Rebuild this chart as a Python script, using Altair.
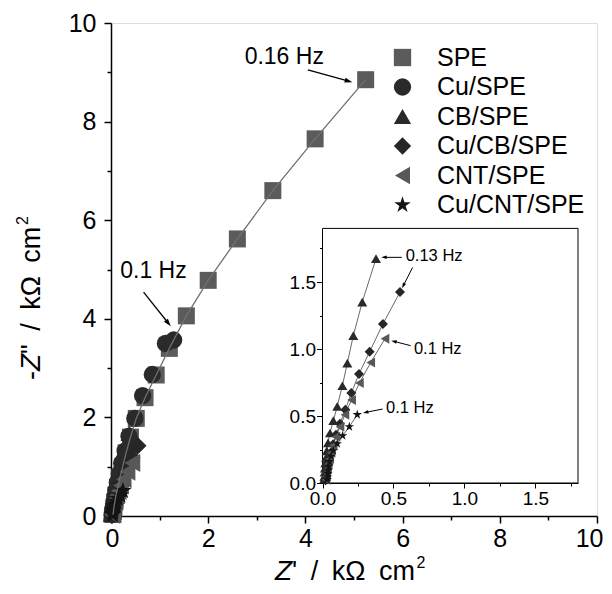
import math
import altair as alt
import pandas as pd

FONT = "Liberation Sans"
STAR = ("M0,-1L0.2245,-0.309L0.9511,-0.309L0.3633,0.118L0.5878,0.809L0,0.382"
        "L-0.5878,0.809L-0.3633,0.118L-0.9511,-0.309L-0.2245,-0.309Z")
HEAD = "M0,-1L0.65,1L-0.65,1Z"
ENSP = "\u2002"

series_names = ["SPE", "Cu/SPE", "CB/SPE", "Cu/CB/SPE", "CNT/SPE", "Cu/CNT/SPE"]
series_shapes = ["square", "circle", "triangle-up", "diamond", "triangle-left", STAR]
series_colors = ["#5b5b5b", "#2a2a2a", "#2a2a2a", "#262626", "#585858", "#141414"]
main_sizes = [289, 340, 420, 420, 330, 400]
inset_sizes = [100, 100, 110, 115, 100, 125]

# data (Z' , -Z'') in kOhm cm2
spe_x = [5.24, 4.20, 3.33, 2.60, 2.00, 1.55, 1.20, 0.93, 0.70, 0.52, 0.40, 0.31, 0.24, 0.18, 0.14, 0.10, 0.08, 0.06, 0.05, 0.04]
spe_y = [8.85, 7.65, 6.60, 5.62, 4.78, 4.06, 3.40, 2.86, 2.40, 1.98, 1.60, 1.28, 1.00, 0.77, 0.58, 0.42, 0.29, 0.18, 0.09, 0.03]
cu_x = [1.29, 1.12, 0.85, 0.65, 0.49, 0.37, 0.29, 0.22, 0.17, 0.13, 0.10, 0.08, 0.065, 0.055, 0.05, 0.045]
cu_y = [3.57, 3.50, 2.87, 2.44, 1.98, 1.62, 1.32, 1.07, 0.86, 0.68, 0.52, 0.39, 0.28, 0.18, 0.10, 0.04]
cb_x = [0.377, 0.28, 0.217, 0.175, 0.14, 0.104, 0.076, 0.053, 0.039, 0.030, 0.025, 0.020, 0.017, 0.015, 0.013, 0.012]
cb_y = [1.674, 1.35, 1.10, 0.895, 0.726, 0.572, 0.465, 0.373, 0.30, 0.24, 0.19, 0.15, 0.11, 0.08, 0.05, 0.03]
cucb_x = [0.546, 0.426, 0.332, 0.257, 0.203, 0.161, 0.123, 0.095, 0.075, 0.06, 0.048, 0.04, 0.033, 0.028, 0.025, 0.022]
cucb_y = [1.425, 1.187, 0.98, 0.813, 0.672, 0.547, 0.443, 0.36, 0.29, 0.23, 0.18, 0.14, 0.10, 0.07, 0.04, 0.02]
cnt_x = [0.44, 0.34, 0.26, 0.205, 0.158, 0.123, 0.095, 0.075, 0.06, 0.05, 0.04, 0.035, 0.03, 0.027, 0.025]
cnt_y = [1.077, 0.90, 0.746, 0.62, 0.51, 0.42, 0.345, 0.28, 0.225, 0.18, 0.14, 0.105, 0.075, 0.05, 0.025]
cucnt_x = [0.245, 0.189, 0.142, 0.104, 0.076, 0.06, 0.05, 0.045, 0.04, 0.037, 0.035, 0.033]
cucnt_y = [0.51, 0.42, 0.353, 0.293, 0.241, 0.20, 0.16, 0.125, 0.095, 0.07, 0.045, 0.025]

# annotations
main_text = ["0.16 Hz", "0.1 Hz"]
main_text_x = [2.75, 0.19]
main_text_y = [9.31, 4.97]
main_arr_x1 = [4.05, 0.67]
main_arr_y1 = [9.05, 4.54]
main_arr_x2 = [4.89, 1.18]
main_arr_y2 = [8.82, 3.91]

ins_text = ["0.13 Hz", "0.1 Hz", "0.1 Hz"]
ins_text_x = [0.586, 0.644, 0.447]
ins_text_y = [1.693, 1.002, 0.562]
ins_arr_x1 = [0.558, 0.635, 0.621, 0.424]
ins_arr_y1 = [1.684, 1.609, 1.025, 0.552]
ins_arr_x2 = [0.433, 0.569, 0.503, 0.304]
ins_arr_y2 = [1.684, 1.472, 1.057, 0.527]

# layout (plot-area pixels)
W, H = 486, 493
INS_X = [211.5, 467.0]
INS_Y = [460.0, 205.4]
INS_XD = [0, 1.8]
INS_YD = [0, 1.9]

all_x = [spe_x, cu_x, cb_x, cucb_x, cnt_x, cucnt_x]
all_y = [spe_y, cu_y, cb_y, cucb_y, cnt_y, cucnt_y]
rows = []
for s, (xs, ys) in enumerate(zip(all_x, all_y)):
    for i, (a, b) in enumerate(zip(xs, ys)):
        rows.append({"series": series_names[s], "sidx": s, "i": i, "x": a, "y": b})
df = pd.DataFrame(rows)
df_ins = df[df["sidx"] >= 2]


def arrows_df(x1, y1, x2, y2, sx, sy):
    out = []
    for a, b, c, d in zip(x1, y1, x2, y2):
        dx = (c - a) * sx
        dy = -(d - b) * sy
        ang = math.degrees(math.atan2(dx, -dy)) % 360
        out.append({"x1": a, "y1": b, "x2": c, "y2": d, "ang": ang})
    return pd.DataFrame(out)


main_arr = arrows_df(main_arr_x1, main_arr_y1, main_arr_x2, main_arr_y2, W / 10, H / 10)
ins_arr = arrows_df(ins_arr_x1, ins_arr_y1, ins_arr_x2, ins_arr_y2,
                    (INS_X[1] - INS_X[0]) / 1.8, (INS_Y[0] - INS_Y[1]) / 1.9)
main_txt = pd.DataFrame({"t": main_text, "x": main_text_x, "y": main_text_y})
ins_txt = pd.DataFrame({"t": ins_text, "x": ins_text_x, "y": ins_text_y})

common_axis = dict(grid=False, domainColor="black", tickColor="black", labelColor="black",
                   labelFont=FONT, domainWidth=1.5, tickWidth=1.5, labelOverlap=False)

main_xaxis = alt.Axis(values=list(range(11)), format="d",
                      labelExpr="datum.value % 2 == 0 ? datum.label : ''",
                      tickSize={"condition": {"test": "datum.value % 2 == 0", "value": 7}, "value": 4},
                      labelFontSize=25, labelPadding=3, title=None,
                      labelFlush=True, labelFlushOffset=6,
                      orient="bottom", **common_axis)
main_yaxis = alt.Axis(values=list(range(11)), format="d",
                      labelExpr="datum.value % 2 == 0 ? datum.label : ''",
                      tickSize={"condition": {"test": "datum.value % 2 == 0", "value": 7}, "value": 4},
                      labelFontSize=25, labelPadding=8, title=None, labelFlush=False,
                      orient="left", **common_axis)

mx = alt.X("x:Q", scale=alt.Scale(domain=[0, 10], nice=False, zero=False), axis=main_xaxis)
my = alt.Y("y:Q", scale=alt.Scale(domain=[0, 10], nice=False, zero=False), axis=main_yaxis)

legend = alt.Legend(orient="none", legendX=279, legendY=22, title=None,
                    labelFont=FONT, labelFontSize=25, labelColor="black",
                    symbolSize=300, rowPadding=3.5, labelOffset=22,
                    symbolStrokeWidth=0, padding=0)
shape_enc = alt.Shape("series:N", scale=alt.Scale(domain=series_names, range=series_shapes), legend=legend)
color_enc = alt.Color("series:N", scale=alt.Scale(domain=series_names, range=series_colors), legend=legend)

main_pts = alt.Chart(df).mark_point(filled=True, opacity=1, strokeWidth=0).encode(
    x=mx, y=my, shape=shape_enc, color=color_enc,
    size=alt.Size("series:N", scale=alt.Scale(domain=series_names, range=main_sizes), legend=None))
main_line = alt.Chart(df[df["sidx"] == 0]).mark_line(color="#707070", strokeWidth=1.3).encode(
    x=alt.X("x:Q"), y=alt.Y("y:Q"), detail="series:N", order=alt.Order("i:Q"))
main_tx = alt.Chart(main_txt).mark_text(align="left", baseline="middle", font=FONT,
                                        fontSize=23, color="black").encode(
    x="x:Q", y="y:Q", text="t:N")
main_rule = alt.Chart(main_arr).mark_rule(color="black", strokeWidth=1.3).encode(
    x="x1:Q", y="y1:Q", x2="x2:Q", y2="y2:Q")
main_head = alt.Chart(main_arr).mark_point(shape=HEAD, filled=True, opacity=1, size=60,
                                           color="black", strokeWidth=0).encode(
    x="x2:Q", y="y2:Q", angle=alt.Angle("ang:Q", scale=None))

# axis titles (italic Z, superscript 2)
one = pd.DataFrame({"a": [0]})
TF = 27
ZF = 28


def piece(text, x, y, size=TF, italic=False, angle=0):
    kw = dict(text=text, align="left", baseline="alphabetic", font=FONT, fontSize=size,
              color="black", angle=angle)
    if italic:
        kw["fontStyle"] = "italic"
    return alt.Chart(one).mark_text(**kw).encode(x=alt.value(x), y=alt.value(y))


XB = 557
xz = 164
xr = xz + 0.611 * ZF
xt = [piece("Z", xz, XB, size=ZF, italic=True),
      piece("'" + ENSP + "/" + ENSP + "kΩ" + ENSP + "cm", xr, XB),
      piece("2", xr + 4.57 * TF + 1, XB - 12, size=16)]
YB = -71
y0 = 357
yz = y0 - 0.333 * TF
yr = yz - 0.611 * ZF
yt = [piece("-", YB, y0, angle=270),
      piece("Z", YB, yz, size=ZF, italic=True, angle=270),
      piece("\"" + ENSP + "/" + ENSP + "kΩ" + ENSP + "cm", YB, yr, angle=270),
      piece("2", YB - 12, yr - 4.734 * TF - 1, size=16, angle=270)]

main_layer = alt.layer(main_pts, main_line, main_tx, main_rule, main_head, *xt, *yt)

# inset
ins_common = dict(grid=False, domainColor="black", tickColor="black", labelColor="black",
                  labelFont=FONT, domainWidth=1, tickWidth=1, labelFlush=False, labelOverlap=False,
                  title=None)
ins_xaxis = alt.Axis(values=[k * 0.25 for k in range(8)],
                     labelExpr="datum.value % 0.5 == 0 ? format(datum.value, '.1f') : ''",
                     tickSize={"condition": {"test": "datum.value % 0.5 == 0", "value": 5}, "value": 3},
                     labelFontSize=19, labelPadding=1, orient="bottom",
                     offset=-(H - INS_Y[0]), **ins_common)
ins_yaxis = alt.Axis(values=[k * 0.25 for k in range(8)],
                     labelExpr="datum.value % 0.5 == 0 ? format(datum.value, '.1f') : ''",
                     tickSize={"condition": {"test": "datum.value % 0.5 == 0", "value": 6}, "value": 3},
                     labelFontSize=19, labelPadding=1, orient="left",
                     offset=-INS_X[0], **ins_common)
isx = alt.Scale(domain=INS_XD, range=INS_X, nice=False, zero=False)
isy = alt.Scale(domain=INS_YD, range=INS_Y, nice=False, zero=False)
ix = alt.X("x:Q", scale=isx, axis=ins_xaxis)
iy = alt.Y("y:Q", scale=isy, axis=ins_yaxis)

frame = alt.Chart(one).mark_rect(fill="white", stroke="black", strokeWidth=1).encode(
    x=alt.X(datum=INS_XD[0], scale=isx, axis=ins_xaxis),
    x2=alt.X2(datum=INS_XD[1]),
    y=alt.Y(datum=INS_YD[0], scale=isy, axis=ins_yaxis),
    y2=alt.Y2(datum=INS_YD[1]))
ins_line = alt.Chart(df_ins).mark_line(color="#6a6a6a", strokeWidth=1).encode(
    x=ix, y=iy, detail="series:N", order=alt.Order("i:Q"))
ins_pts = alt.Chart(df_ins).mark_point(filled=True, opacity=1, strokeWidth=0).encode(
    x=ix, y=iy, shape=shape_enc, color=color_enc,
    size=alt.Size("series:N", scale=alt.Scale(domain=series_names, range=inset_sizes), legend=None))
ins_tx = alt.Chart(ins_txt).mark_text(align="left", baseline="middle", font=FONT,
                                      fontSize=16.5, color="black").encode(
    x="x:Q", y="y:Q", text="t:N")
ins_rule = alt.Chart(ins_arr).mark_rule(color="black", strokeWidth=1).encode(
    x="x1:Q", y="y1:Q", x2="x2:Q", y2="y2:Q")
ins_head = alt.Chart(ins_arr).mark_point(shape=HEAD, filled=True, opacity=1, size=30,
                                         color="black", strokeWidth=0).encode(
    x="x2:Q", y="y2:Q", angle=alt.Angle("ang:Q", scale=None))
ins_layer = alt.layer(frame, ins_line, ins_pts, ins_tx, ins_rule, ins_head).resolve_scale(size="independent")

chart = alt.layer(main_layer, ins_layer).resolve_scale(
    x="independent", y="independent", size="independent").properties(
    width=W, height=H,
    autosize=alt.AutoSizeParams(type="none"),
    padding={"left": 103, "top": 15, "right": 7, "bottom": 70},
).configure_view(stroke="black", strokeWidth=1.5).configure(background="white")

chart.save("out.html", embed_options={"renderer": "svg", "actions": False})
